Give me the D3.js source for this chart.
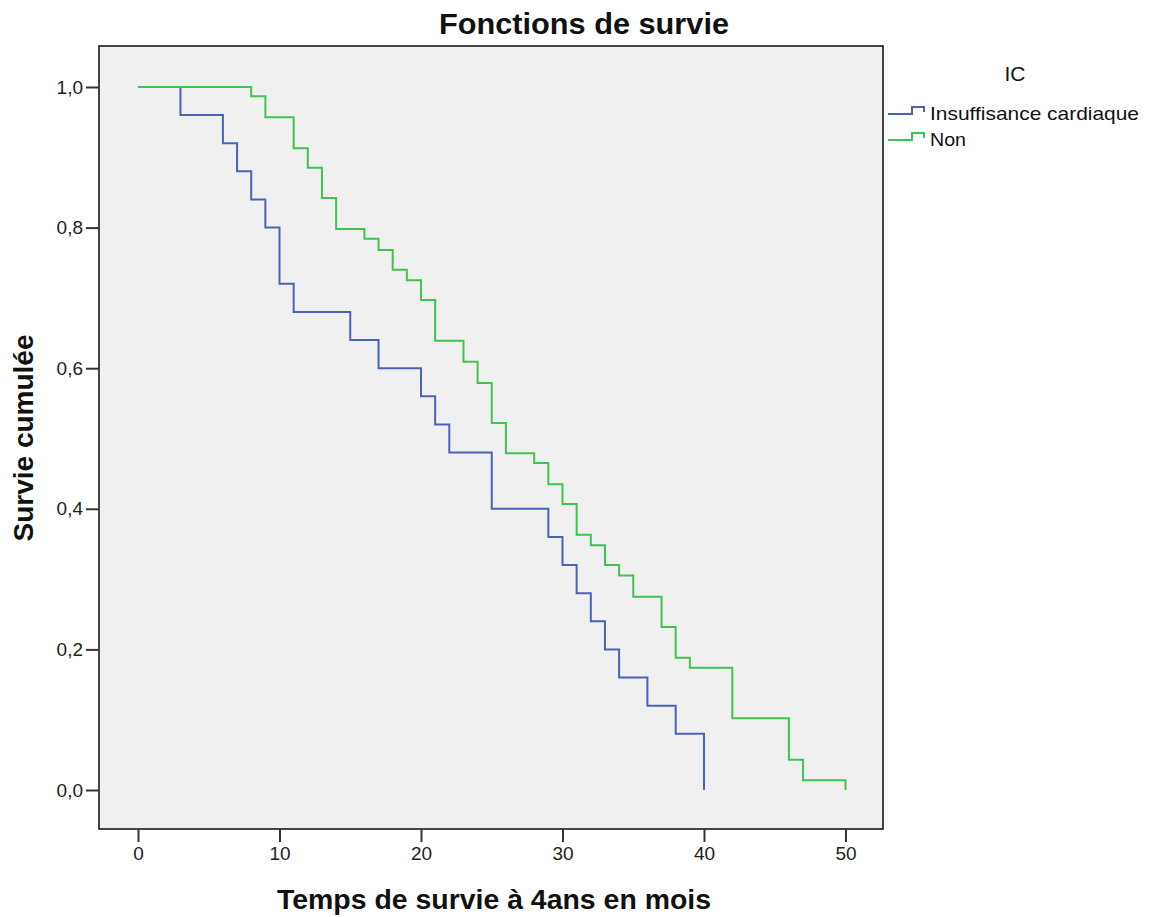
<!DOCTYPE html>
<html>
<head>
<meta charset="utf-8">
<script src="https://cdn.jsdelivr.net/npm/d3@7"></script>
<style>
  body { margin: 0; background: #ffffff; }
  svg { display: block; font-family: "Liberation Sans", Arial, sans-serif; }
</style>
</head>
<body>
<svg id="chart"></svg>
<script>
// Kaplan-Meier steps
const timesIC = [0, 3, 6, 7, 8, 9, 10, 11, 15, 17, 20, 21, 22, 25, 29, 30, 31, 32, 33, 34, 36, 38, 40];
const survIC = [1.0, 0.96, 0.92, 0.88, 0.84, 0.80, 0.72, 0.68, 0.64, 0.60, 0.56, 0.52, 0.48, 0.40, 0.36, 0.32, 0.28, 0.24, 0.20, 0.16, 0.12, 0.08, 0.0];

const timesNon = [0, 8, 9, 11, 12, 13, 14, 16, 17, 18, 19, 20, 21, 23, 24, 25, 26, 28, 29, 30, 31, 32, 33, 34, 35, 37, 38, 39, 42, 46, 47, 50];
const survNon = [1.0, 0.987, 0.957, 0.913, 0.885, 0.842, 0.798, 0.784, 0.768, 0.740, 0.725, 0.697, 0.639, 0.609, 0.579, 0.522, 0.479, 0.465, 0.435, 0.407, 0.363, 0.348, 0.320, 0.305, 0.275, 0.232, 0.188, 0.174, 0.102, 0.043, 0.014, 0.0];

const seriesNames = ["Insuffisance cardiaque", "Non"];
const seriesColors = ["#4a62b8", "#3ec44f"];
const xTicks = [0, 10, 20, 30, 40, 50];
const yTicks = [0, 0.2, 0.4, 0.6, 0.8, 1.0];

const W = 1149, H = 917;
// plot frame
const frame = { left: 99, top: 46, right: 883, bottom: 829 };

const svg = d3.select("#chart").attr("width", W).attr("height", H);

// Scales
const x = d3.scaleLinear().domain([0, 50]).range([138, 845.5]);
const y = d3.scaleLinear().domain([0, 1]).range([790, 87]);

// Plot background + frame
svg.append("rect")
  .attr("x", frame.left)
  .attr("y", frame.top)
  .attr("width", frame.right - frame.left)
  .attr("height", frame.bottom - frame.top)
  .attr("fill", "#f0f0f0")
  .attr("stroke", "#1a1a1a")
  .attr("stroke-width", 1.6);

// Axes (ticks only, frame draws the lines)
const fmt = (d) => d3.format(".1f")(d).replace(".", ",");

const xAxis = svg.append("g")
  .attr("transform", `translate(0,${frame.bottom})`)
  .call(d3.axisBottom(x).tickValues(xTicks).tickSize(13).tickPadding(5).tickFormat(d3.format("d")));
xAxis.select(".domain").remove();

const yAxis = svg.append("g")
  .attr("transform", `translate(${frame.left},0)`)
  .call(d3.axisLeft(y).tickValues(yTicks).tickSize(13).tickPadding(3).tickFormat(fmt));
yAxis.select(".domain").remove();

svg.selectAll(".tick line").attr("stroke", "#333").attr("stroke-width", 2);
svg.selectAll(".tick text")
  .attr("fill", "#222")
  .style("font-size", "19px")
  .style("font-family", "'Liberation Sans', Arial, sans-serif");

// Survival curves
const line = d3.line()
  .x((d) => x(d[0]))
  .y((d) => y(d[1]))
  .curve(d3.curveStepAfter);

const curves = [
  d3.zip(timesIC, survIC),
  d3.zip(timesNon, survNon),
];

curves.forEach((pts, i) => {
  svg.append("path")
    .datum(pts)
    .attr("d", line)
    .attr("fill", "none")
    .attr("stroke", seriesColors[i])
    .attr("stroke-width", 2);
});

// Title
svg.append("text")
  .attr("x", 584)
  .attr("y", 34)
  .attr("text-anchor", "middle")
  .attr("textLength", 290)
  .attr("lengthAdjust", "spacingAndGlyphs")
  .style("font-size", "30px")
  .style("font-weight", "bold")
  .attr("fill", "#111")
  .text("Fonctions de survie");

// Axis titles
svg.append("text")
  .attr("x", 494)
  .attr("y", 909)
  .attr("text-anchor", "middle")
  .attr("textLength", 434)
  .attr("lengthAdjust", "spacingAndGlyphs")
  .style("font-size", "27px")
  .style("font-weight", "bold")
  .attr("fill", "#111")
  .text("Temps de survie à 4ans en mois");

svg.append("text")
  .attr("transform", "translate(33,438) rotate(-90)")
  .attr("text-anchor", "middle")
  .attr("textLength", 207)
  .attr("lengthAdjust", "spacingAndGlyphs")
  .style("font-size", "27px")
  .style("font-weight", "bold")
  .attr("fill", "#111")
  .text("Survie cumulée");

// Legend
const legend = svg.append("g").attr("class", "legend");
legend.append("text")
  .attr("x", 1015)
  .attr("y", 81)
  .attr("text-anchor", "middle")
  .style("font-size", "21px")
  .attr("fill", "#111")
  .text("IC");

const textWidths = [209, 36];
seriesNames.forEach((name, i) => {
  const base = 114 + i * 26;
  legend.append("path")
    .attr("d", `M888,${base}H912V${base - 7}H924V${base - 2}`)
    .attr("fill", "none")
    .attr("stroke", seriesColors[i])
    .attr("stroke-width", 2);
  legend.append("text")
    .attr("x", 930)
    .attr("y", base + 6)
    .attr("textLength", textWidths[i])
    .attr("lengthAdjust", "spacingAndGlyphs")
    .style("font-size", "19px")
    .attr("fill", "#111")
    .text(name);
});
</script>
</body>
</html>
